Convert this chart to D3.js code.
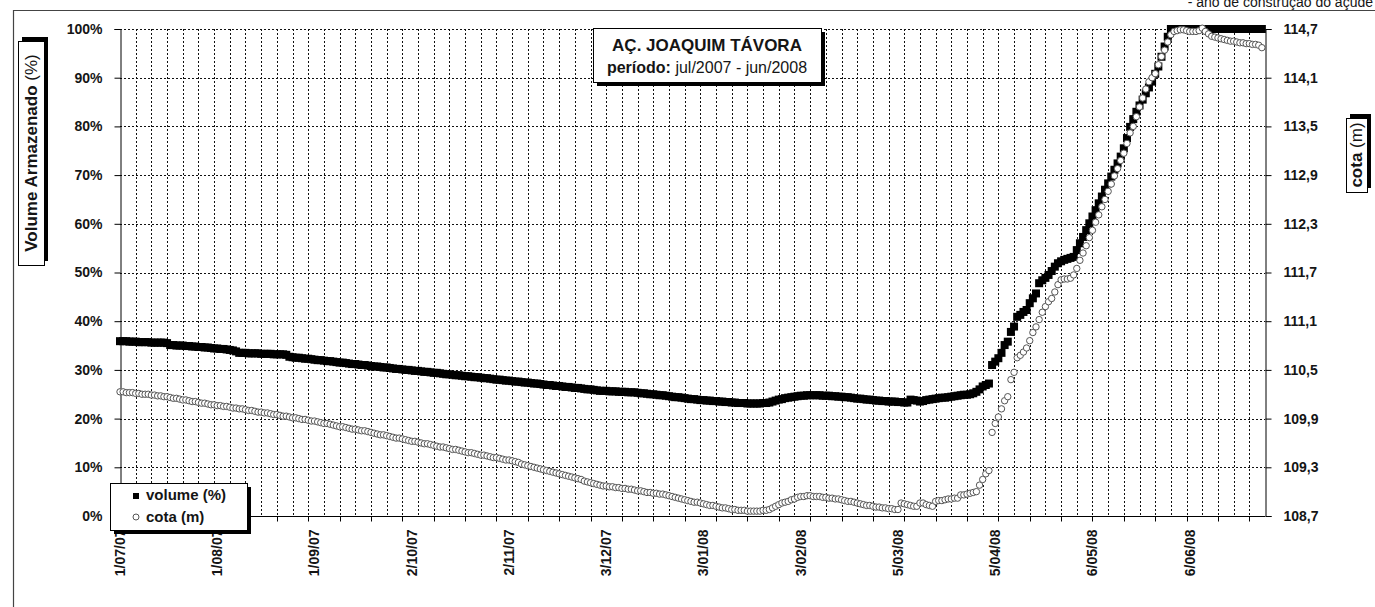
<!DOCTYPE html>
<html>
<head>
<meta charset="utf-8">
<script src="https://cdn.jsdelivr.net/npm/d3@7"></script>
<style>
  body { margin: 0; background: #fff; }
  svg { display: block; }
  text { font-family: "Liberation Sans", Arial, sans-serif; fill: #151515; }
</style>
</head>
<body>
<svg id="chart" width="1375" height="607"></svg>
<script>
// Daily readings, 1 Jul 2007 – 30 Jun 2008
const startDate = "2007-07-01";
const endDate = "2008-06-30";

// stored volume, % of capacity (one value per day)
const volume = [
  35.9,35.9,35.9,35.8,35.8,35.8,35.7,35.7,35.7,35.7,
  35.6,35.6,35.6,35.6,35.6,35.5,35.1,35.1,35.0,35.0,
  35.0,34.9,34.9,34.8,34.8,34.7,34.7,34.6,34.6,34.5,
  34.4,34.4,34.3,34.3,34.2,34.1,34.0,33.8,33.5,33.5,
  33.5,33.4,33.4,33.4,33.4,33.3,33.3,33.3,33.3,33.2,
  33.2,33.2,33.2,33.1,32.7,32.6,32.5,32.5,32.4,32.3,
  32.3,32.2,32.1,32.0,32.0,31.9,31.8,31.8,31.7,31.6,
  31.5,31.5,31.4,31.3,31.2,31.2,31.1,31.0,31.0,30.9,
  30.8,30.7,30.7,30.6,30.5,30.5,30.4,30.3,30.2,30.2,
  30.1,30.0,30.0,29.9,29.8,29.8,29.7,29.6,29.6,29.5,
  29.4,29.4,29.3,29.2,29.1,29.1,29.0,28.9,28.9,28.8,
  28.7,28.7,28.6,28.5,28.5,28.4,28.3,28.3,28.2,28.1,
  28.0,28.0,27.9,27.8,27.8,27.7,27.6,27.6,27.5,27.4,
  27.4,27.3,27.2,27.2,27.1,27.0,26.9,26.9,26.8,26.7,
  26.7,26.6,26.5,26.5,26.4,26.3,26.3,26.2,26.1,26.0,
  26.0,25.9,25.8,25.7,25.7,25.7,25.6,25.6,25.6,25.5,
  25.5,25.5,25.4,25.4,25.4,25.3,25.2,25.2,25.1,25.0,
  25.0,24.9,24.8,24.8,24.7,24.6,24.5,24.4,24.4,24.3,
  24.2,24.1,24.0,24.0,23.9,23.8,23.8,23.7,23.7,23.6,
  23.6,23.5,23.5,23.4,23.4,23.3,23.3,23.2,23.2,23.2,
  23.1,23.1,23.1,23.1,23.1,23.2,23.2,23.3,23.5,23.7,
  23.9,24.0,24.2,24.3,24.4,24.5,24.6,24.7,24.7,24.8,
  24.8,24.8,24.8,24.8,24.7,24.7,24.7,24.6,24.6,24.5,
  24.5,24.4,24.4,24.3,24.2,24.1,24.1,24.0,23.9,23.9,
  23.8,23.7,23.7,23.6,23.6,23.5,23.5,23.5,23.4,23.4,
  23.3,23.3,23.9,23.8,23.7,23.5,23.6,23.8,23.9,24.0,
  24.1,24.2,24.3,24.3,24.4,24.5,24.6,24.7,24.8,24.9,
  24.9,25.0,25.2,25.5,26.0,26.6,26.9,27.2,31.0,31.7,
  32.4,33.5,35.1,35.8,37.8,38.9,40.9,41.3,41.9,42.3,
  43.7,44.7,45.7,47.8,48.4,48.9,49.5,50.3,51.2,51.9,
  52.3,52.6,52.8,53.0,53.2,54.6,56.0,57.3,58.7,60.1,
  61.5,62.8,64.2,65.6,67.0,68.3,69.7,71.1,72.4,73.8,
  75.5,77.6,79.9,81.5,83.0,84.3,85.5,86.8,88.0,89.2,
  90.8,92.3,94.3,96.4,98.4,100,100,100,100,100,
  100,100,100,100,100,100,100,100,100,100,
  100,100,100,100,100,100,100,100,100,100,
  100,100,100,100,100
];

// water level (cota), metres (one value per day)
const cota = [
  110.23,110.23,110.22,110.22,110.22,110.21,110.21,110.20,110.20,110.20,
  110.19,110.19,110.18,110.18,110.17,110.17,110.16,110.15,110.15,110.14,
  110.13,110.13,110.12,110.11,110.11,110.10,110.09,110.09,110.08,110.07,
  110.07,110.06,110.06,110.05,110.05,110.04,110.03,110.03,110.02,110.02,
  110.01,110.00,110.00,109.99,109.98,109.98,109.97,109.97,109.96,109.95,
  109.95,109.94,109.93,109.93,109.92,109.91,109.91,109.90,109.89,109.89,
  109.88,109.87,109.87,109.86,109.85,109.84,109.84,109.83,109.82,109.81,
  109.80,109.80,109.79,109.78,109.77,109.77,109.76,109.75,109.75,109.74,
  109.73,109.72,109.71,109.70,109.70,109.69,109.68,109.67,109.66,109.66,
  109.65,109.64,109.63,109.62,109.62,109.61,109.60,109.59,109.59,109.58,
  109.57,109.56,109.55,109.55,109.54,109.53,109.52,109.52,109.51,109.50,
  109.49,109.48,109.48,109.47,109.46,109.45,109.45,109.44,109.43,109.42,
  109.42,109.41,109.40,109.39,109.39,109.38,109.37,109.36,109.34,109.33,
  109.32,109.31,109.30,109.29,109.28,109.27,109.26,109.25,109.24,109.23,
  109.22,109.21,109.20,109.19,109.18,109.17,109.16,109.15,109.13,109.12,
  109.11,109.10,109.09,109.08,109.07,109.07,109.06,109.06,109.05,109.05,
  109.04,109.04,109.03,109.03,109.02,109.01,109.01,109.00,108.99,108.99,
  108.98,108.98,108.97,108.97,108.96,108.95,108.94,108.93,108.92,108.91,
  108.90,108.89,108.88,108.87,108.87,108.86,108.85,108.84,108.83,108.83,
  108.82,108.81,108.80,108.80,108.79,108.78,108.78,108.77,108.77,108.77,
  108.76,108.76,108.76,108.76,108.76,108.77,108.77,108.78,108.80,108.82,
  108.84,108.86,108.87,108.88,108.90,108.91,108.93,108.94,108.94,108.95,
  108.95,108.94,108.94,108.94,108.93,108.93,108.92,108.92,108.91,108.91,
  108.90,108.89,108.88,108.88,108.87,108.86,108.85,108.84,108.83,108.83,
  108.82,108.81,108.81,108.80,108.80,108.79,108.79,108.78,108.78,108.86,
  108.85,108.84,108.83,108.82,108.82,108.86,108.86,108.84,108.83,108.82,
  108.88,108.89,108.89,108.90,108.91,108.91,108.92,108.92,108.96,108.96,
  108.97,108.98,108.99,109.00,109.08,109.15,109.22,109.26,109.73,109.84,
  109.92,110.02,110.12,110.17,110.38,110.47,110.65,110.68,110.72,110.77,
  110.86,110.96,111.03,111.12,111.21,111.28,111.34,111.38,111.46,111.55,
  111.61,111.62,111.62,111.63,111.67,111.75,111.85,111.94,112.03,112.13,
  112.22,112.32,112.41,112.51,112.60,112.70,112.79,112.89,112.98,113.08,
  113.17,113.29,113.42,113.50,113.62,113.74,113.85,113.96,114.05,114.10,
  114.15,114.26,114.36,114.44,114.54,114.63,114.67,114.68,114.69,114.69,
  114.68,114.67,114.67,114.67,114.68,114.71,114.67,114.64,114.61,114.60,
  114.59,114.58,114.57,114.56,114.55,114.55,114.54,114.53,114.53,114.52,
  114.52,114.51,114.51,114.50,114.47
];

// labelled dates on the time axis
const xLabelDates = ["2007-07-01","2007-08-01","2007-09-01","2007-10-02","2007-11-02","2007-12-03",
                     "2008-01-03","2008-02-03","2008-03-05","2008-04-05","2008-05-06","2008-06-06"];
const volumeTicks = [0,10,20,30,40,50,60,70,80,90,100];
const cotaTicks = [108.7,109.3,109.9,110.5,111.1,111.7,112.3,112.9,113.5,114.1,114.7];

const titleLine = "AÇ. JOAQUIM TÁVORA";
const periodLabel = "período:";
const periodText = " jul/2007 - jun/2008";
const noteText = "- ano de construção do açude";

// ---------------------------------------------------------------------------
const svg = d3.select("#chart");
const W = 1375, H = 607;
const plot = { left: 120, right: 1265, top: 29, bottom: 516 };

const parse = d3.utcParse("%Y-%m-%d");
const t0 = parse(startDate), t1 = parse(endDate);
const nDays = d3.utcDay.count(t0, t1);

const x = d3.scaleUtc().domain([t0, t1]).range([plot.left, plot.right]);
const yVol = d3.scaleLinear().domain([0, 100]).range([plot.bottom, plot.top]);
const yCota = d3.scaleLinear().domain([108.7, 114.7]).range([plot.bottom, plot.top]);

const dayAt = i => d3.utcDay.offset(t0, i);
const volData = volume.map((v, i) => ({ date: dayAt(i), v }));
const cotaData = cota.map((v, i) => ({ date: dayAt(i), v }));

// outer frame of the chart area
svg.append("path")
  .attr("d", `M13.5,${H + 2} V10.5 H${W + 2}`)
  .attr("fill", "none").attr("stroke", "#444").attr("stroke-width", 1.2);

// note at top right (runs past the top edge)
svg.append("text")
  .attr("x", 1373).attr("y", 6.5)
  .attr("text-anchor", "end")
  .style("font-size", "14px")
  .text(noteText);

// grid
const grid = svg.append("g").attr("shape-rendering", "crispEdges");
const gridDays = d3.range(5, nDays + 1, 5).map(dayAt).filter(d => x(d) < plot.right - 1);
grid.selectAll("line.v").data(gridDays).join("line")
  .attr("class", "v")
  .attr("x1", d => Math.round(x(d)) + 0.5).attr("x2", d => Math.round(x(d)) + 0.5)
  .attr("y1", plot.top).attr("y2", plot.bottom)
  .attr("stroke", "#111").attr("stroke-width", 1).attr("stroke-dasharray", "2,2");
grid.selectAll("line.h").data(volumeTicks.filter(v => v > 0)).join("line")
  .attr("class", "h")
  .attr("x1", plot.left).attr("x2", plot.right)
  .attr("y1", d => Math.round(yVol(d)) + 0.5).attr("y2", d => Math.round(yVol(d)) + 0.5)
  .attr("stroke", "#111").attr("stroke-width", 1).attr("stroke-dasharray", "2,2");

// axes
const axisFont = g => g.selectAll("text")
  .style("font-size", "14px").style("font-weight", "bold")
  .style("font-family", "'Liberation Sans', Arial, sans-serif").attr("fill", "#151515");

const leftAxis = d3.axisLeft(yVol).tickValues(volumeTicks).tickSize(6).tickPadding(12)
  .tickFormat(d => d + "%");
svg.append("g").attr("transform", `translate(${plot.left + 0.5},0)`).call(leftAxis)
  .call(g => g.select(".domain").attr("stroke", "#000"))
  .call(g => g.selectAll(".tick line").attr("stroke", "#000"))
  .call(axisFont);

const rightAxis = d3.axisRight(yCota).tickValues(cotaTicks).tickSize(6).tickPadding(12)
  .tickFormat(d => d3.format(".1f")(d).replace(".", ","));
svg.append("g").attr("transform", `translate(${plot.right + 0.5},0)`).call(rightAxis)
  .call(g => g.select(".domain").attr("stroke", "#000"))
  .call(g => g.selectAll(".tick line").attr("stroke", "#000"))
  .call(axisFont);

// bottom axis: tick marks every 10 days, labels on the listed dates
const tickDays = d3.range(0, nDays + 1, 10).map(dayAt);
const xAxisG = svg.append("g").attr("transform", `translate(0,${plot.bottom + 0.5})`);
xAxisG.append("line")
  .attr("x1", plot.left).attr("x2", plot.right).attr("stroke", "#000");
xAxisG.selectAll("line.tk").data(tickDays).join("line")
  .attr("class", "tk")
  .attr("x1", d => Math.round(x(d)) + 0.5).attr("x2", d => Math.round(x(d)) + 0.5)
  .attr("y1", 0).attr("y2", 5).attr("stroke", "#000");
const fmtDate = d3.utcFormat("%-d/%m/%y");
xAxisG.selectAll("text").data(xLabelDates.map(parse)).join("text")
  .attr("transform", d => `translate(${x(d)},13) rotate(-90)`)
  .attr("text-anchor", "end").attr("dy", "0.35em")
  .style("font-size", "14px").style("font-weight", "bold")
  .text(fmtDate);

// series: volume as filled squares, cota as hollow circles
const sq = 8;
svg.append("g").selectAll("rect").data(volData).join("rect")
  .attr("x", d => x(d.date) - sq / 2).attr("y", d => yVol(d.v) - sq / 2)
  .attr("width", sq).attr("height", sq).attr("fill", "#000");

svg.append("g").selectAll("circle").data(cotaData).join("circle")
  .attr("cx", d => x(d.date)).attr("cy", d => yCota(d.v)).attr("r", 3.2)
  .attr("fill", "#fff").attr("stroke", "#555").attr("stroke-width", 1);

// boxed label helper with a solid drop shadow
function shadowBox(g, bx, by, bw, bh, dx, dy) {
  g.append("rect").attr("x", bx + dx).attr("y", by + dy).attr("width", bw).attr("height", bh).attr("fill", "#000");
  g.append("rect").attr("x", bx + 0.5).attr("y", by + 0.5).attr("width", bw).attr("height", bh)
    .attr("fill", "#fff").attr("stroke", "#000").attr("stroke-width", 1);
}

// title box
const tg = svg.append("g");
shadowBox(tg, 593, 28, 228, 54, 4, 4);
tg.append("text").attr("x", 707).attr("y", 51).attr("text-anchor", "middle")
  .style("font-size", "17px").style("font-weight", "bold").text(titleLine);
const t2 = tg.append("text").attr("x", 707).attr("y", 73).attr("text-anchor", "middle")
  .style("font-size", "16px");
t2.append("tspan").style("font-weight", "bold").text(periodLabel);
t2.append("tspan").text(periodText);

// legend
const lg = svg.append("g");
shadowBox(lg, 110, 483, 137, 47, 4, 4);
lg.append("rect").attr("x", 133).attr("y", 493).attr("width", 6).attr("height", 6).attr("fill", "#000");
lg.append("text").attr("x", 146).attr("y", 500).style("font-size", "15px").style("font-weight", "bold").text("volume (%)");
lg.append("circle").attr("cx", 136).attr("cy", 517).attr("r", 3).attr("fill", "#fff").attr("stroke", "#555");
lg.append("text").attr("x", 146).attr("y", 522).style("font-size", "15px").style("font-weight", "bold").text("cota (m)");

// axis titles (rotated boxes, shadow to the top-right)
const ly = svg.append("g");
shadowBox(ly, 18, 41, 26, 224, 4, -4);
const ltxt = ly.append("text")
  .attr("transform", `translate(37,${41 + 112}) rotate(-90)`)
  .attr("text-anchor", "middle").style("font-size", "17px");
ltxt.append("tspan").style("font-weight", "bold").text("Volume Armazenado");
ltxt.append("tspan").text(" (%)");

const ry = svg.append("g");
shadowBox(ry, 1346, 118, 21, 74, 4, -4);
const rtxt = ry.append("text")
  .attr("transform", `translate(1362,${118 + 37}) rotate(-90)`)
  .attr("text-anchor", "middle").style("font-size", "17px");
rtxt.append("tspan").style("font-weight", "bold").text("cota");
rtxt.append("tspan").text(" (m)");
</script>
</body>
</html>
